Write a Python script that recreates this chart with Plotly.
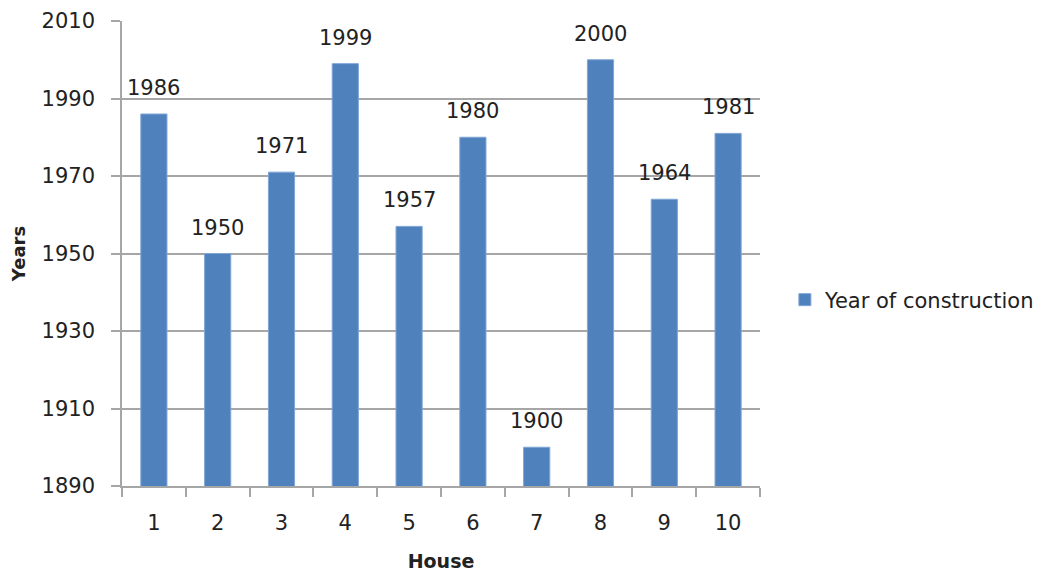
import plotly.graph_objects as go

houses = ["1", "2", "3", "4", "5", "6", "7", "8", "9", "10"]
years = [1986, 1950, 1971, 1999, 1957, 1980, 1900, 2000, 1964, 1981]
y_ticks = [1890, 1910, 1930, 1950, 1970, 1990, 2010]
series_name = "Year of construction"

FONT = "DejaVu Sans"
grid = "#A6A6A6"
txt = "#222222"

fig = go.Figure()
fig.add_trace(go.Bar(
    x=houses, y=years, name=series_name,
    marker=dict(color="#4F81BD", line=dict(color="#7FA6D6", width=1)),
    showlegend=True,
))

# annotations on a category axis: numeric x is the category index
for i, v in enumerate(years):
    fig.add_annotation(x=i, y=v, text=str(v), showarrow=False,
                       xanchor="center", yanchor="bottom", yshift=12,
                       font=dict(family=FONT, size=21, color=txt))

# page body has an 8px margin, so margins are shifted by 8px;
# figure is slightly wider than the window so the legend never pushes the margin
fig.update_layout(
    width=1080, height=564,
    margin=dict(l=114, r=328, t=13, b=86),
    plot_bgcolor="white", paper_bgcolor="white",
    bargap=0.59,
    font=dict(family=FONT, size=21, color=txt),
    showlegend=True,
    legend=dict(x=1.039, y=0.4, xanchor="left", yanchor="middle",
                font=dict(family=FONT, size=21, color=txt),
                itemwidth=30),
    xaxis=dict(
        type="category",
        automargin=False,
        title=dict(text="<b>House</b>", font=dict(family=FONT, size=19, color=txt), standoff=22),
        showline=True, linecolor=grid, linewidth=1.5,
        ticks="outside", ticklen=9, tickcolor=grid, tickwidth=1.5,
        tickson="boundaries", ticklabelstandoff=17,
        tickfont=dict(family=FONT, size=21, color=txt),
        showgrid=False,
    ),
    yaxis=dict(
        automargin=False,
        title=dict(text="<b>Years</b>", font=dict(family=FONT, size=18, color=txt), standoff=12),
        range=[1890, 2010], tickvals=y_ticks,
        showline=True, linecolor=grid, linewidth=1.5,
        ticks="outside", ticklen=9, tickcolor=grid, tickwidth=1.5,
        ticklabelstandoff=12,
        showgrid=True, gridcolor=grid, gridwidth=1.5,
        tickfont=dict(family=FONT, size=21, color=txt),
        zeroline=False,
    ),
)

fig.write_html("out.html")
